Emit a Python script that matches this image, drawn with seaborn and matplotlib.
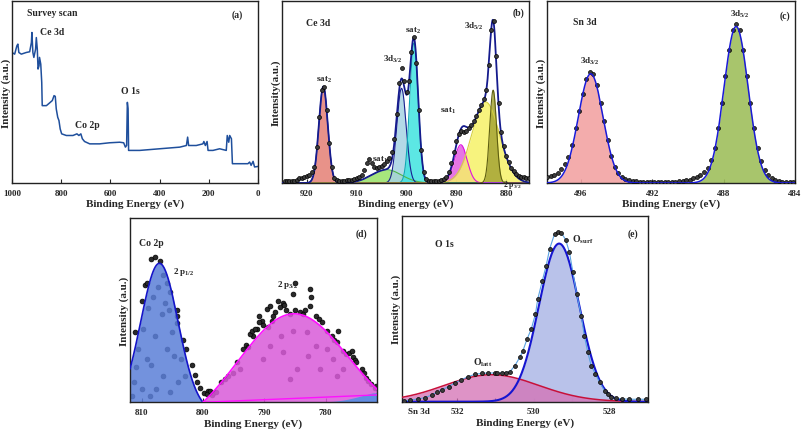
import numpy as np
import pandas as pd
import seaborn as sns
import matplotlib.pyplot as plt

# ---------------- data ----------------
# (a) survey scan, binding energy (eV) and relative intensity
survey_be = [1000, 989, 980, 976, 972, 962, 942, 928, 921, 919, 915, 911, 904, 901, 897,
             894, 890, 888, 883, 879, 877, 860, 847, 836, 829, 824, 820, 814, 809, 804,
             798, 779, 752, 736, 728, 720, 714, 705, 684, 644, 603, 562, 546, 539, 534,
             531, 528, 526, 481, 400, 318, 291, 286, 282, 251, 224, 220, 214, 207, 203,
             183, 156, 129, 125, 119, 115, 108, 104, 75, 41, 34, 28, 20, 14, 0]
survey_int = [0.717, 0.708, 0.754, 0.763, 0.717, 0.708, 0.717, 0.721, 0.772, 0.827, 0.717, 0.690, 0.735, 0.799, 0.735,
              0.626, 0.644, 0.690, 0.653, 0.553, 0.425, 0.425, 0.440, 0.453, 0.480, 0.476, 0.407, 0.361, 0.343, 0.297,
              0.270, 0.261, 0.261, 0.270, 0.261, 0.270, 0.243, 0.228, 0.215, 0.215, 0.221, 0.224, 0.221, 0.197, 0.206,
              0.443, 0.407, 0.179, 0.179, 0.188, 0.197, 0.206, 0.252, 0.206, 0.206, 0.215, 0.228, 0.206, 0.228, 0.179,
              0.179, 0.188, 0.179, 0.261, 0.224, 0.261, 0.243, 0.106, 0.106, 0.106, 0.115, 0.097, 0.119, 0.088, 0.091]

# (b) Ce 3d fitted peaks: centre (eV), height (%), fwhm (eV)
ce_center = [916.7, 904.0, 901.0, 898.5, 889.1, 884.1, 882.6]
ce_height = [53, 7.3, 52, 77, 21, 44.5, 51]
ce_fwhm = [2.1, 7.0, 2.2, 2.0, 3.0, 6.5, 1.6]
ce_fill = ['#e57f74', '#98e266', '#a6d3e3', '#3fe3e0', '#e25ee0', '#f6f268', '#a5a534']
ce_edge = ['#1a2090', '#4fb84a', '#1a2090', '#10a9b5', '#e010e0', '#d6d040', '#5e5e10']
# (b) measured points
ce_dot_be = [924.5, 924.0, 923.5, 923.0, 922.5, 922.0, 921.5, 921.0, 920.5, 920.0,
             919.5, 919.0, 918.5, 918.0, 917.5, 917.0, 916.5, 916.0, 915.5, 915.0,
             914.5, 914.0, 913.5, 913.0, 912.5, 912.0, 911.5, 911.0, 910.5, 910.0,
             909.5, 909.0, 908.5, 908.0, 907.5, 907.0, 906.5, 906.0, 905.5, 905.0,
             904.5, 904.0, 903.5, 903.0, 902.5, 902.0, 901.5, 901.0, 900.5, 900.0,
             899.5, 899.0, 898.5, 898.0, 897.5, 897.0, 896.5, 896.0, 895.5, 895.0,
             894.5, 894.0, 893.5, 893.0, 892.5, 892.0, 891.5, 891.0, 890.5, 890.0,
             889.5, 889.0, 888.5, 888.0, 887.5, 887.0, 886.5, 886.0, 885.5, 885.0,
             884.5, 884.0, 883.5, 883.0, 882.5, 882.0, 881.5, 881.0, 880.5, 880.0,
             879.5, 879.0, 878.5, 878.0, 877.5, 877.0, 876.5, 876.0, 875.5]
ce_dot_int = [1.0, 1.0, 1.0, 1.1, 1.3, 1.8, 2.5, 3.0, 3.5, 4.0,
              4.5, 6, 9, 20, 36, 51, 53, 40, 22, 9,
              3, 1.5, 1.2, 1.2, 1.3, 1.4, 1.6, 1.8, 2.1, 2.5,
              3.2, 4.5, 7, 11, 13, 11, 9, 8, 9, 9.5,
              10.5, 12, 14, 17, 24, 38, 55, 63, 56, 50,
              56, 72, 80, 66, 40, 18, 6, 2.2, 1.3, 1.0,
              1.0, 1.0, 1.1, 1.5, 2.2, 3.5, 6, 11, 17, 23,
              27, 28.5, 28, 28.5, 30, 32, 34, 37, 40, 43,
              46, 51, 65, 84, 89, 70, 44, 28, 20.5, 15,
              11.5, 8.5, 6.5, 5, 4, 3.5, 3.2, 3, 3]

# (c) Sn 3d fitted peaks and measured points
sn_center = [495.45, 487.3]
sn_height = [60, 86]
sn_fwhm = [1.63, 1.6]
sn_fill = ['#f2a3a3', '#9fbf5c']
sn_dot_be = [497.9, 497.7, 497.5, 497.3, 497.1, 496.9, 496.7, 496.5, 496.3, 496.1,
             495.9, 495.7, 495.5, 495.3, 495.1, 494.9, 494.7, 494.5, 494.3, 494.1,
             493.9, 493.7, 493.5, 493.3, 493.1, 492.9, 492.7, 492.5, 492.3, 492.1,
             491.9, 491.7, 491.5, 491.3, 491.1, 490.9, 490.7, 490.5, 490.3, 490.1,
             489.9, 489.7, 489.5, 489.3, 489.1, 488.9, 488.7, 488.5, 488.3, 488.1,
             487.9, 487.7, 487.5, 487.3, 487.1, 486.9, 486.7, 486.5, 486.3, 486.1,
             485.9, 485.7, 485.5, 485.3, 485.1, 484.9, 484.7, 484.5, 484.3, 484.1]
sn_dot_int = [3.3, 3.8, 4.5, 5.5, 7.5, 10.5, 14.5, 21, 30, 39.5,
              49, 57, 61, 60, 54, 44, 34, 23.5, 15, 9,
              5.5, 3.5, 2.4, 1.8, 1.3, 1.0, 0.8, 0.6, 0.5, 0.4,
              0.4, 0.4, 0.4, 0.5, 0.5, 0.6, 0.7, 0.9, 1.1, 1.4,
              1.9, 2.6, 3.5, 4.5, 5.8, 8, 12.5, 19.5, 30, 44,
              59, 73, 84, 87.5, 84, 73, 59, 44, 30, 19.5,
              12, 7, 4.2, 2.8, 1.8, 1.2, 0.8, 0.6, 0.5, 0.5]

# (d) Co 2p fitted peaks (2p1/2, 2p3/2, low-energy tail) and scattered points
co_center = [807.1, 785.3, 770.0]
co_height = [81, 62.5, 6]
co_fwhm = [7.2, 21.2, 9.4]
co_base = [0, 4]          # linear background at 800 eV and at the right edge
co_dot_be = [808.4, 807.8, 807.0, 809.5, 809.2, 810.0, 806.5, 805.9, 805.4, 804.3,
             804.3, 804.2, 803.3, 802.7, 801.8, 801.3, 801.0, 800.5, 799.8, 799.2,
             798.5, 811.5, 811.3, 810.9, 810.6, 811.1, 809.7, 808.9, 808.1, 807.3,
             806.7, 806.2, 805.5, 805.1, 805.9, 804.8, 806.5, 807.6, 808.6, 804.0,
             803.5, 802.9, 805.4, 810.0, 809.2, 807.8, 808.4,
             799.4, 798.8, 798.3, 797.8, 797.0, 796.4, 795.9, 795.1, 794.5, 794.0,
             793.4, 793.0, 792.6, 791.8, 791.2, 790.8, 790.4, 789.6, 789.1, 792.3,
             792.0, 791.5, 790.9, 790.2, 789.4, 788.8, 788.5, 788.3, 787.8, 787.4,
             787.0, 786.7, 786.4, 785.3, 785.0, 785.8, 785.0, 784.2, 783.7, 783.4,
             782.5, 782.3, 782.5, 781.5, 781.0, 780.6, 779.8, 779.0, 778.6, 778.2,
             777.9, 777.1, 776.6, 776.1, 775.7, 775.5, 775.2, 775.0, 774.1, 773.7,
             773.4, 773.0, 772.5, 772.0, 771.7,
             787.2, 785.3, 783.1, 781.5, 779.8, 778.7, 782.8, 786.9, 789.1, 784.7,
             780.9, 790.2, 785.8, 778.2, 777.1]
co_dot_int = [78, 79, 77, 64, 65, 55, 69, 65, 60, 50,
              47, 43, 34, 29, 20, 15, 11, 8, 5, 6,
              4, 3.6, 10.9, 19, 29, 38, 40, 51, 57, 62.5,
              48, 54, 50, 38, 29, 25, 14.5, 7.2, 3.6, 10.9,
              23.5, 14.5, 5.4, 7.2, 23.5, 36, 20,
              4.5, 6.3, 5, 5.5, 11, 12.5, 14.5, 16, 21.7, 18,
              29, 31, 30, 36, 40, 47, 44, 50.7, 52.5, 37,
              39, 40, 43.6, 42, 41, 44, 47, 49, 55, 52,
              54, 53, 50, 59, 65, 48, 50, 49, 48, 50,
              52.5, 57, 61.6, 47, 45, 43.5, 39, 36, 34, 32.6,
              39, 28, 26, 27, 28, 24.5, 23, 21.7, 18, 16,
              13, 11.7, 10, 8, 9,
              36.2, 38.9, 38, 30.8, 29, 23.5, 25.3, 27.2, 30.8, 18.1,
              18.1, 23.5, 12.7, 14.5, 18.1]

# (e) O 1s fitted peaks (O_surf, O_latt) and measured points
o_center = [529.33, 531.1]
o_height = [85, 14.5]
o_fwhm = [1.25, 2.9]
o_dot_be = [533.40, 533.23, 533.02, 532.84, 532.67, 532.54, 532.41, 532.23, 532.06, 531.89,
            531.71, 531.54, 531.36, 531.19, 531.02, 530.95, 530.84, 530.73, 530.62, 530.49,
            530.36, 530.28, 530.17, 530.06, 529.95, 529.89, 529.77, 529.67, 529.58, 529.45,
            529.36, 529.27, 529.16, 529.06, 528.97, 528.87, 528.75, 528.67, 528.58, 528.49,
            528.38, 528.27, 528.14, 528.06, 527.97, 527.84, 527.67, 527.49, 527.27, 527.05]
o_dot_int = [0.5, 0.9, 1.5, 2.2, 3.6, 5.0, 6.3, 8.1, 10.1, 11.8,
             13.5, 14.7, 15.2, 15.4, 15.4, 15.2, 15.4, 15.6, 16.1, 19.4,
             23.9, 27.4, 33.7, 39.1, 47.2, 55.2, 65.1, 73.1, 82.1, 90.2,
             91.1, 90.7, 87.1, 80.3, 69.6, 57.9, 46.2, 35.5, 26.6, 19.4,
             14.9, 10.4, 5.9, 4.1, 2.4, 1.8, 1.5, 1.3, 1.3, 1.3]

# ---------------- style ----------------
sns.set_style("ticks")
plt.rcParams['font.family'] = ['Liberation Serif', 'DejaVu Serif']
plt.rcParams['font.weight'] = 'bold'
plt.rcParams['axes.labelweight'] = 'bold'
plt.rcParams['mathtext.fontset'] = 'custom'
plt.rcParams['mathtext.rm'] = 'Liberation Serif:bold'
plt.rcParams['mathtext.it'] = 'Liberation Serif:italic:bold'
plt.rcParams['mathtext.bf'] = 'Liberation Serif:bold'

DOT = dict(s=8, color='#3c3c3c', edgecolor='black', linewidth=0.5, legend=False)


def gauss(x, c, h, fwhm):
    sig = fwhm / 2.3548
    return h * np.exp(-(x - c) ** 2 / (2 * sig ** 2))


def style_axes(ax, xlabel, ylabel="Intensity (a.u.)"):
    ax.set_xlabel(xlabel, fontsize=8, labelpad=1.5)
    ax.set_ylabel(ylabel, fontsize=8, labelpad=1)
    ax.set_yticks([])
    ax.tick_params(axis='x', direction='in', length=3, width=0.8, labelsize=6.5, pad=4)
    for s in ax.spines.values():
        s.set_linewidth(1.0)
        s.set_color('#222222')


# Panel a: survey scan
def survey_panel(ax):
    df = pd.DataFrame({'be': survey_be, 'int': survey_int})
    sns.lineplot(data=df, x='be', y='int', ax=ax, color='#1f4f9c', lw=1.1,
                 sort=False, estimator=None)
    ax.set_xlim(1000, 0)
    ax.set_ylim(0, 1)
    ax.set_xticks([1000, 800, 600, 400, 200, 0])
    style_axes(ax, "Binding Energy (eV)")
    ax.text(0.06, 0.935, "Survey scan", transform=ax.transAxes, fontsize=7, va='center')
    ax.text(0.915, 0.93, "(a)", transform=ax.transAxes, fontsize=7, ha='center', va='center')
    ax.text(837, 0.83, "Ce 3d", fontsize=7, ha='center', va='center')
    ax.text(520, 0.51, "O 1s", fontsize=7, ha='center', va='center')
    ax.text(694, 0.32, "Co 2p", fontsize=7, ha='center', va='center')


# Panel b: Ce 3d deconvolution
def ce_panel(ax):
    grid = np.linspace(925, 875, 1200)
    env = np.zeros_like(grid)
    for c, h, w, fc, ec in zip(ce_center, ce_height, ce_fwhm, ce_fill, ce_edge):
        y = gauss(grid, c, h, w)
        env += y
        ax.fill_between(grid, 0, y, color=fc, alpha=0.85, lw=0, zorder=2)
        sns.lineplot(x=grid, y=y, ax=ax, color=ec, lw=0.8, zorder=3)
    sns.lineplot(x=grid, y=env, ax=ax, color='#151b8d', lw=1.3, zorder=4)
    sns.scatterplot(x=ce_dot_be, y=ce_dot_int, ax=ax, zorder=5, **DOT)
    ax.set_xlim(925, 875.4)
    ax.set_ylim(0, 100)
    ax.set_xticks([920, 910, 900, 890, 880])
    style_axes(ax, "Binding energy (eV)", "Intensity(a.u.)")
    ax.text(917.7, 88, "Ce 3d", fontsize=7, ha='center', va='center')
    ax.text(0.957, 0.94, "(b)", transform=ax.transAxes, fontsize=7, ha='center', va='center')
    fs = 6.5
    ax.text(916.6, 57, r"sat$_{\mathrm{2}}$", fontsize=fs, ha='center', va='center')
    ax.text(905.3, 13, r"sat$_{\mathrm{1}}$", fontsize=fs, ha='center', va='center')
    ax.text(902.7, 68.5, r"3d$_{\mathrm{3/2}}$", fontsize=fs, ha='center', va='center')
    ax.text(898.7, 84, r"sat$_{\mathrm{2}}$", fontsize=fs, ha='center', va='center')
    ax.text(886.6, 86.5, r"3d$_{\mathrm{5/2}}$", fontsize=fs, ha='center', va='center')
    ax.text(891.6, 40, r"sat$_{\mathrm{1}}$", fontsize=fs, ha='center', va='center')
    ax.text(880.7, -0.3, r"2 p$_{\mathrm{3/2}}$", fontsize=5.5, ha='left', va='center',
            clip_on=False, zorder=10)


# Panel c: Sn 3d
def sn_panel(ax):
    grid = np.linspace(497.9, 484.0, 800)
    env = np.zeros_like(grid)
    for c, h, w, fc in zip(sn_center, sn_height, sn_fwhm, sn_fill):
        y = gauss(grid, c, h, w)
        env += y
        ax.fill_between(grid, 0, y, color=fc, alpha=0.9, lw=0, zorder=2)
    sns.scatterplot(x=sn_dot_be, y=sn_dot_int, ax=ax, zorder=3, **DOT)
    sns.lineplot(x=grid, y=env, ax=ax, color='#1a1ad8', lw=1.1, zorder=4)
    ax.set_xlim(497.9, 484.0)
    ax.set_ylim(0, 100)
    ax.set_xticks([496, 492, 488, 484])
    style_axes(ax, "Binding Energy (eV)")
    ax.text(495.8, 88.5, "Sn 3d", fontsize=7, ha='center', va='center')
    ax.text(0.96, 0.92, "(c)", transform=ax.transAxes, fontsize=7, ha='center', va='center')
    ax.text(495.5, 67.5, r"3d$_{\mathrm{3/2}}$", fontsize=6.5, ha='center', va='center')
    ax.text(487.1, 93, r"3d$_{\mathrm{5/2}}$", fontsize=6.5, ha='center', va='center')


# Panel d: Co 2p
def co_panel(ax):
    x_hi, x_lo = 811.9, 771.6
    left = np.linspace(x_hi, 800, 300)
    right = np.linspace(800, x_lo, 600)
    base = co_base[0] + (co_base[1] - co_base[0]) * (800 - right) / (800 - x_lo)
    y1 = gauss(left, co_center[0], co_height[0], co_fwhm[0]) - gauss(800, co_center[0], co_height[0], co_fwhm[0])
    y2 = gauss(right, co_center[1], co_height[1], co_fwhm[1]) - gauss(800, co_center[1], co_height[1], co_fwhm[1]) + base
    y3 = gauss(right, co_center[2], co_height[2], co_fwhm[2])
    sns.scatterplot(x=co_dot_be, y=co_dot_int, ax=ax, zorder=1, s=12, color='#2a2a2a',
                    edgecolor='black', linewidth=0.5, legend=False)
    ax.fill_between(left, 0, y1, color='#5b7fd8', alpha=0.85, lw=0, zorder=2)
    ax.fill_between(right, 0, y2, color='#d95bd9', alpha=0.85, lw=0, zorder=2)
    ax.fill_between(right, 0, np.minimum(y3, base + 1.2), color='#5b8fe3', alpha=0.95, lw=0, zorder=2)
    sns.lineplot(x=left, y=y1, ax=ax, color='#1414c8', lw=1.2, zorder=3)
    sns.lineplot(x=right, y=y2, ax=ax, color='#ff10ff', lw=1.2, zorder=3)
    sns.lineplot(x=right, y=base, ax=ax, color='#ff10ff', lw=1.0, zorder=3)
    ax.set_xlim(x_hi, x_lo)
    ax.set_ylim(0, 100)
    ax.set_xticks([810, 800, 790, 780])
    style_axes(ax, "Binding Energy (eV)")
    ax.text(808.4, 87, "Co 2p", fontsize=7, ha='center', va='center')
    ax.text(0.938, 0.92, "(d)", transform=ax.transAxes, fontsize=7, ha='center', va='center')
    ax.text(803.2, 71.5, r"2 p$_{\mathrm{1/2}}$", fontsize=6.5, ha='center', va='center')
    ax.text(786.1, 64.5, r"2 p$_{\mathrm{3/2}}$", fontsize=6.5, ha='center', va='center')


# Panel e: O 1s
def o_panel(ax):
    grid = np.linspace(533.45, 527.0, 800)
    y_surf = gauss(grid, o_center[0], o_height[0], o_fwhm[0])
    y_latt = gauss(grid, o_center[1], o_height[1], o_fwhm[1])
    ax.fill_between(grid, 0, y_surf, color='#b5bfe9', alpha=0.95, lw=0, zorder=2)
    ax.fill_between(grid, 0, y_latt, color='#d46fb4', alpha=0.75, lw=0, zorder=2)
    sns.lineplot(x=grid, y=y_latt, ax=ax, color='#c8103a', lw=1.1, zorder=3)
    sns.lineplot(x=grid, y=y_surf, ax=ax, color='#1515d0', lw=1.5, zorder=3)
    sns.lineplot(x=o_dot_be, y=o_dot_int, ax=ax, color='#5aa2e2', lw=0.8, zorder=4,
                 sort=False, estimator=None)
    sns.scatterplot(x=o_dot_be, y=o_dot_int, ax=ax, zorder=5, **DOT)
    ax.set_xlim(533.45, 527.0)
    ax.set_ylim(0, 100)
    ax.set_xticks([533, 532, 531, 530, 529, 528])
    ax.set_xticklabels(["Sn 3d", "532", "", "530", "", "528"])
    style_axes(ax, "Binding Energy (eV)")
    ax.text(532.34, 85, "O 1s", fontsize=7, ha='center', va='center')
    ax.text(0.94, 0.907, "(e)", transform=ax.transAxes, fontsize=7, ha='center', va='center')
    ax.text(528.71, 87.5, r"O$_{\mathrm{surf}}$", fontsize=7, ha='center', va='center')
    ax.text(531.32, 21.2, r"O$_{\mathrm{latt}}$", fontsize=7, ha='center', va='center')


def main():
    fig = plt.figure(figsize=(8.03, 4.31), dpi=100)
    ax_a = fig.add_axes([0.0149, 0.5731, 0.3064, 0.4223])
    ax_b = fig.add_axes([0.3512, 0.5731, 0.3076, 0.4223])
    ax_c = fig.add_axes([0.6812, 0.5731, 0.3088, 0.4223])
    ax_d = fig.add_axes([0.1619, 0.0643, 0.3076, 0.4269])
    ax_e = fig.add_axes([0.5006, 0.0657, 0.3064, 0.4316])
    survey_panel(ax_a)
    ce_panel(ax_b)
    sn_panel(ax_c)
    co_panel(ax_d)
    o_panel(ax_e)
    fig.savefig("out.png", dpi=100)


if __name__ == "__main__":
    main()
